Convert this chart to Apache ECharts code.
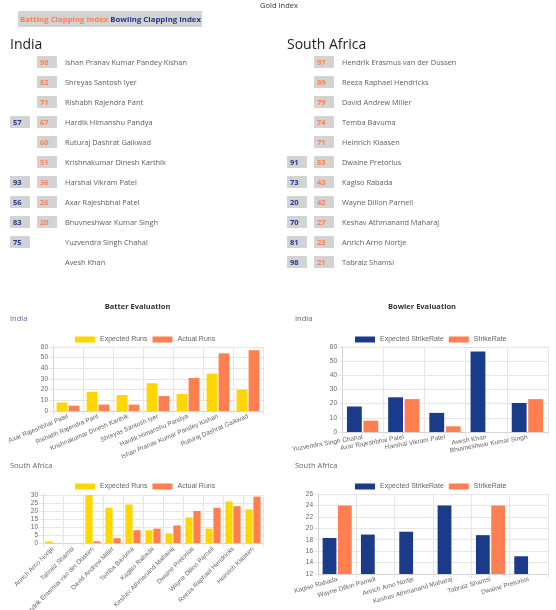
<!DOCTYPE html>
<html>
<head>
<meta charset="utf-8">
<script src="https://cdn.jsdelivr.net/npm/echarts@6/dist/echarts.min.js"></script>
<style>
  body { margin: 0; width: 556px; height: 610px; background: #fff; position: relative; overflow: hidden;
         font-family: "Open Sans", "Noto Sans", sans-serif; }
  #chart { position: absolute; left: 0; top: 0; width: 556px; height: 610px; }
  .t { position: absolute; white-space: nowrap; }
  .box { position: absolute; width: 20px; height: 12px; line-height: 12px; background: #d3d3d3;
         font-size: 7.5px; font-weight: bold; padding-left: 3px; box-sizing: border-box; }
  .bat { color: #ff7f50; }
  .bowl { color: #1f3a8a; }
  .name { position: absolute; font-size: 7.4px; color: #5c5c6c; line-height: 12px; white-space: nowrap; }
  .team { position: absolute; font-size: 14px; color: #222; line-height: 18px; }
  .ctitle { position: absolute; font-size: 7.5px; font-weight: bold; color: #333; }
  .sub { position: absolute; font-size: 7.5px; color: #667; }
</style>
</head>
<body>
<div id="chart"></div>
<div class="t" style="left:0;width:558px;top:0;text-align:center;font-size:7.5px;color:#333;">Gold Index</div>
<div class="t" style="left:18px;top:11px;width:184px;height:16px;line-height:16px;background:#d3d3d3;font-size:7.8px;font-weight:bold;padding-left:2px;box-sizing:border-box;">
  <span class="bat">Batting Clapping Index</span> <span class="bowl">Bowling Clapping Index</span>
</div>
<div class="team" style="left:10px;top:35px;">India</div>
<div class="team" style="left:287px;top:35px;">South Africa</div>
<div id="indiaList"></div>
<div id="saList"></div>
<div class="ctitle" style="left:0;width:275px;text-align:center;top:301px;">Batter Evaluation</div>
<div class="ctitle" style="left:284px;width:276px;text-align:center;top:301px;">Bowler Evaluation</div>
<div class="sub" style="left:10px;top:313px;color:#5b6a9a;">India</div>
<div class="sub" style="left:295px;top:313px;">India</div>
<div class="sub" style="left:10px;top:460px;">South Africa</div>
<div class="sub" style="left:295px;top:460px;">South Africa</div>
<script>
// clapping index lists
const indiaPlayers = ['Ishan Pranav Kumar Pandey Kishan', 'Shreyas Santosh Iyer', 'Rishabh Rajendra Pant',
  'Hardik Himanshu Pandya', 'Ruturaj Dashrat Gaikwad', 'Krishnakumar Dinesh Karthik', 'Harshal Vikram Patel',
  'Axar Rajeshbhai Patel', 'Bhuvneshwar Kumar Singh', 'Yuzvendra Singh Chahal', 'Avesh Khan'];
const indiaBatting = [98, 82, 71, 67, 60, 51, 36, 26, 20, null, null];
const indiaBowling = [null, null, null, 57, null, null, 93, 56, 83, 75, null];

const saPlayers = ['Hendrik Erasmus van der Dussen', 'Reeza Raphael Hendricks', 'David Andrew Miller',
  'Temba Bavuma', 'Heinrich Klaasen', 'Dwaine Pretorius', 'Kagiso Rabada', 'Wayne Dillon Parnell',
  'Keshav Athmanand Maharaj', 'Anrich Arno Nortje', 'Tabraiz Shamsi'];
const saBatting = [97, 89, 79, 74, 71, 53, 43, 42, 27, 23, 21];
const saBowling = [null, null, null, null, null, 91, 73, 20, 70, 81, 98];

// evaluation charts
const indBatNames = ['Axar Rajeshbhai Patel', 'Rishabh Rajendra Pant', 'Krishnakumar Dinesh Karthik',
  'Shreyas Santosh Iyer', 'Hardik Himanshu Pandya', 'Ishan Pranav Kumar Pandey Kishan', 'Ruturaj Dashrat Gaikwad'];
const indBatExpected = [8, 18, 15, 26, 16, 35, 20];
const indBatActual = [5, 6, 6, 14, 31, 54, 57];
const indBatTicks = [0, 10, 20, 30, 40, 50, 60];

const indBowlNames = ['Yuzvendra Singh Chahal', 'Axar Rajeshbhai Patel', 'Harshal Vikram Patel',
  'Avesh Khan', 'Bhuvneshwar Kumar Singh'];
const indBowlExpected = [18, 24.5, 13.5, 56.8, 20.5];
const indBowlActual = [8, 23.2, 4, null, 23.2];
const indBowlTicks = [0, 10, 20, 30, 40, 50, 60];

const saBatNames = ['Anrich Arno Nortje', 'Tabraiz Shamsi', 'Hendrik Erasmus van der Dussen', 'David Andrew Miller',
  'Temba Bavuma', 'Kagiso Rabada', 'Keshav Athmanand Maharaj', 'Dwaine Pretorius', 'Wayne Dillon Parnell',
  'Reeza Raphael Hendricks', 'Heinrich Klaasen'];
const saBatExpected = [1, 0, 30, 22, 24, 8, 6, 16, 9, 26, 21];
const saBatActual = [0, 0, 1, 3, 8, 9, 11, 20, 22, 23, 29];
const saBatTicks = [0, 5, 10, 15, 20, 25, 30];

const saBowlNames = ['Kagiso Rabada', 'Wayne Dillon Parnell', 'Anrich Arno Nortje', 'Keshav Athmanand Maharaj',
  'Tabraiz Shamsi', 'Dwaine Pretorius'];
const saBowlExpected = [18.3, 18.9, 19.4, 24, 18.8, 15.1];
const saBowlActual = [24, null, null, null, 24, null];
const saBowlTicks = [12, 14, 16, 18, 20, 22, 24, 26];

const GOLD = '#ffd700', CORAL = '#ff7f50', NAVY = '#1a3a8a';

function buildList(el, players, bat, bowl, x0) {
  let html = '';
  players.forEach((p, i) => {
    const top = 56 + i * 20;
    if (bowl[i] != null) html += `<div class="box bowl" style="left:${x0}px;top:${top}px">${bowl[i]}</div>`;
    if (bat[i] != null) html += `<div class="box bat" style="left:${x0 + 27}px;top:${top}px">${bat[i]}</div>`;
    html += `<div class="name" style="left:${x0 + 55}px;top:${top}px">${p}</div>`;
  });
  document.getElementById(el).innerHTML = html;
}
buildList('indiaList', indiaPlayers, indiaBatting, indiaBowling, 10);
buildList('saList', saPlayers, saBatting, saBowling, 287);

const chart = echarts.init(document.getElementById('chart'), null, { renderer: 'canvas' });
const txt = { fontFamily: 'Liberation Sans', fontSize: 6.5, color: '#666' };
const lineCol = '#e6e6e6';

function xAxisFor(i, names, rotate) {
  return {
    type: 'category', gridIndex: i, data: names,
    axisLine: { lineStyle: { color: '#d4d4d4' } },
    axisTick: { show: true, length: 4, interval: 0, lineStyle: { color: lineCol } },
    splitLine: { show: true, interval: 0, lineStyle: { color: lineCol } },
    axisLabel: Object.assign({ interval: 0, rotate: rotate, margin: 5 }, txt)
  };
}
function yAxisFor(i, ticks) {
  return {
    type: 'value', gridIndex: i, min: ticks[0], max: ticks[ticks.length - 1], interval: ticks[1] - ticks[0],
    axisLine: { show: true, lineStyle: { color: '#d4d4d4' } },
    axisTick: { show: true, length: 4, lineStyle: { color: lineCol } },
    splitLine: { lineStyle: { color: lineCol } },
    axisLabel: Object.assign({ margin: 5, showMinLabel: true, showMaxLabel: true }, txt)
  };
}
function barSeries(name, data, color, i, last) {
  const s = { name: name, type: 'bar', xAxisIndex: i, yAxisIndex: i, data: data,
    itemStyle: { color: color }, barWidth: '36%', clip: true };
  if (last) { s.barGap = '11%'; }
  return s;
}
function legendFor(left, top, names) {
  return { left: left, top: top, padding: 0, itemWidth: 20, itemHeight: 6, itemGap: 5, icon: 'rect',
    data: names, textStyle: Object.assign({}, txt, { fontSize: 7 }), selectedMode: false };
}
function gridAt(left, top, right, bottom) {
  return { left: left, top: top, right: right, bottom: bottom, containLabel: false, outerBoundsMode: 'none' };
}

chart.setOption({
  animation: false,
  grid: [
    gridAt(53, 347, 293, 199),
    gridAt(342, 347, 8, 178),
    gridAt(43, 495, 293, 67),
    gridAt(318, 494, 8, 36)
  ],
  legend: [
    legendFor(75, 336, ['Expected Runs', 'Actual Runs']),
    legendFor(355, 336, ['Expected StrikeRate', 'StrikeRate']),
    legendFor(75, 483, ['Expected Runs', 'Actual Runs']),
    legendFor(355, 483, ['Expected StrikeRate', 'StrikeRate'])
  ],
  xAxis: [
    xAxisFor(0, indBatNames, 23),
    xAxisFor(1, indBowlNames, 10),
    xAxisFor(2, saBatNames, 45),
    xAxisFor(3, saBowlNames, 16)
  ],
  yAxis: [
    yAxisFor(0, indBatTicks),
    yAxisFor(1, indBowlTicks),
    yAxisFor(2, saBatTicks),
    yAxisFor(3, saBowlTicks)
  ],
  series: [
    barSeries('Expected Runs', indBatExpected, GOLD, 0),
    barSeries('Actual Runs', indBatActual, CORAL, 0, true),
    barSeries('Expected StrikeRate', indBowlExpected, NAVY, 1),
    barSeries('StrikeRate', indBowlActual, CORAL, 1, true),
    barSeries('Expected Runs', saBatExpected, GOLD, 2),
    barSeries('Actual Runs', saBatActual, CORAL, 2, true),
    barSeries('Expected StrikeRate', saBowlExpected, NAVY, 3),
    barSeries('StrikeRate', saBowlActual, CORAL, 3, true)
  ]
});
</script>
</body>
</html>
